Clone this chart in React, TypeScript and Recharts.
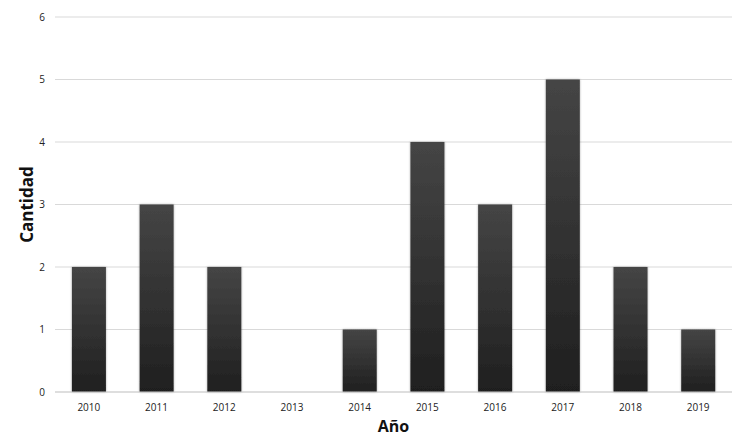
import { BarChart, Bar, XAxis, YAxis, CartesianGrid } from "recharts";

const years = ["2010", "2011", "2012", "2013", "2014", "2015", "2016", "2017", "2018", "2019"];
const counts = [2, 3, 2, 0, 1, 4, 3, 5, 2, 1];
const yTicks = [0, 1, 2, 3, 4, 5, 6];

const data = years.map((year, i) => ({ year, value: counts[i] }));

const font = "'Open Sans', 'Liberation Sans', sans-serif";

export default function App() {
  return (
    <div style={{ position: "absolute", left: 0, top: 0, background: "#fff" }}>
      <BarChart
        width={736}
        height={438}
        data={data}
        margin={{ top: 17, right: 4, bottom: 0, left: 0 }}
        barCategoryGap="25%"
      >
        <defs>
          <linearGradient id="barFill" x1="0" y1="0" x2="0" y2="1">
            <stop offset="0%" stopColor="#454545" />
            <stop offset="100%" stopColor="#1f1f1f" />
          </linearGradient>
          <filter id="barShadow" x="-20%" y="-5%" width="140%" height="110%">
            <feDropShadow dx="0" dy="0" stdDeviation="1.2" floodColor="#000" floodOpacity="0.35" />
          </filter>
        </defs>
        <CartesianGrid vertical={false} stroke="#d9d9d9" />
        <XAxis
          dataKey="year"
          axisLine={{ stroke: "#d0d0d0" }}
          tickLine={false}
          height={46}
          tickMargin={6}
          tick={{ fill: "#222", fontSize: 10, fontFamily: font }}
          label={{
            value: "Año",
            position: "insideBottom",
            offset: 6,
            style: { fill: "#111", fontSize: 16, fontWeight: 700, fontFamily: font },
          }}
        />
        <YAxis
          domain={[0, 6]}
          ticks={yTicks}
          axisLine={false}
          tickLine={false}
          width={55}
          tickMargin={4}
          tick={{ fill: "#222", fontSize: 10, fontFamily: font }}
          label={{
            value: "Cantidad",
            angle: -90,
            position: "insideLeft",
            offset: 27,
            style: { fill: "#111", fontSize: 17, fontWeight: 700, fontFamily: font, textAnchor: "middle" },
          }}
        />
        <Bar dataKey="value" fill="url(#barFill)" filter="url(#barShadow)" isAnimationActive={false} />
      </BarChart>
    </div>
  );
}
